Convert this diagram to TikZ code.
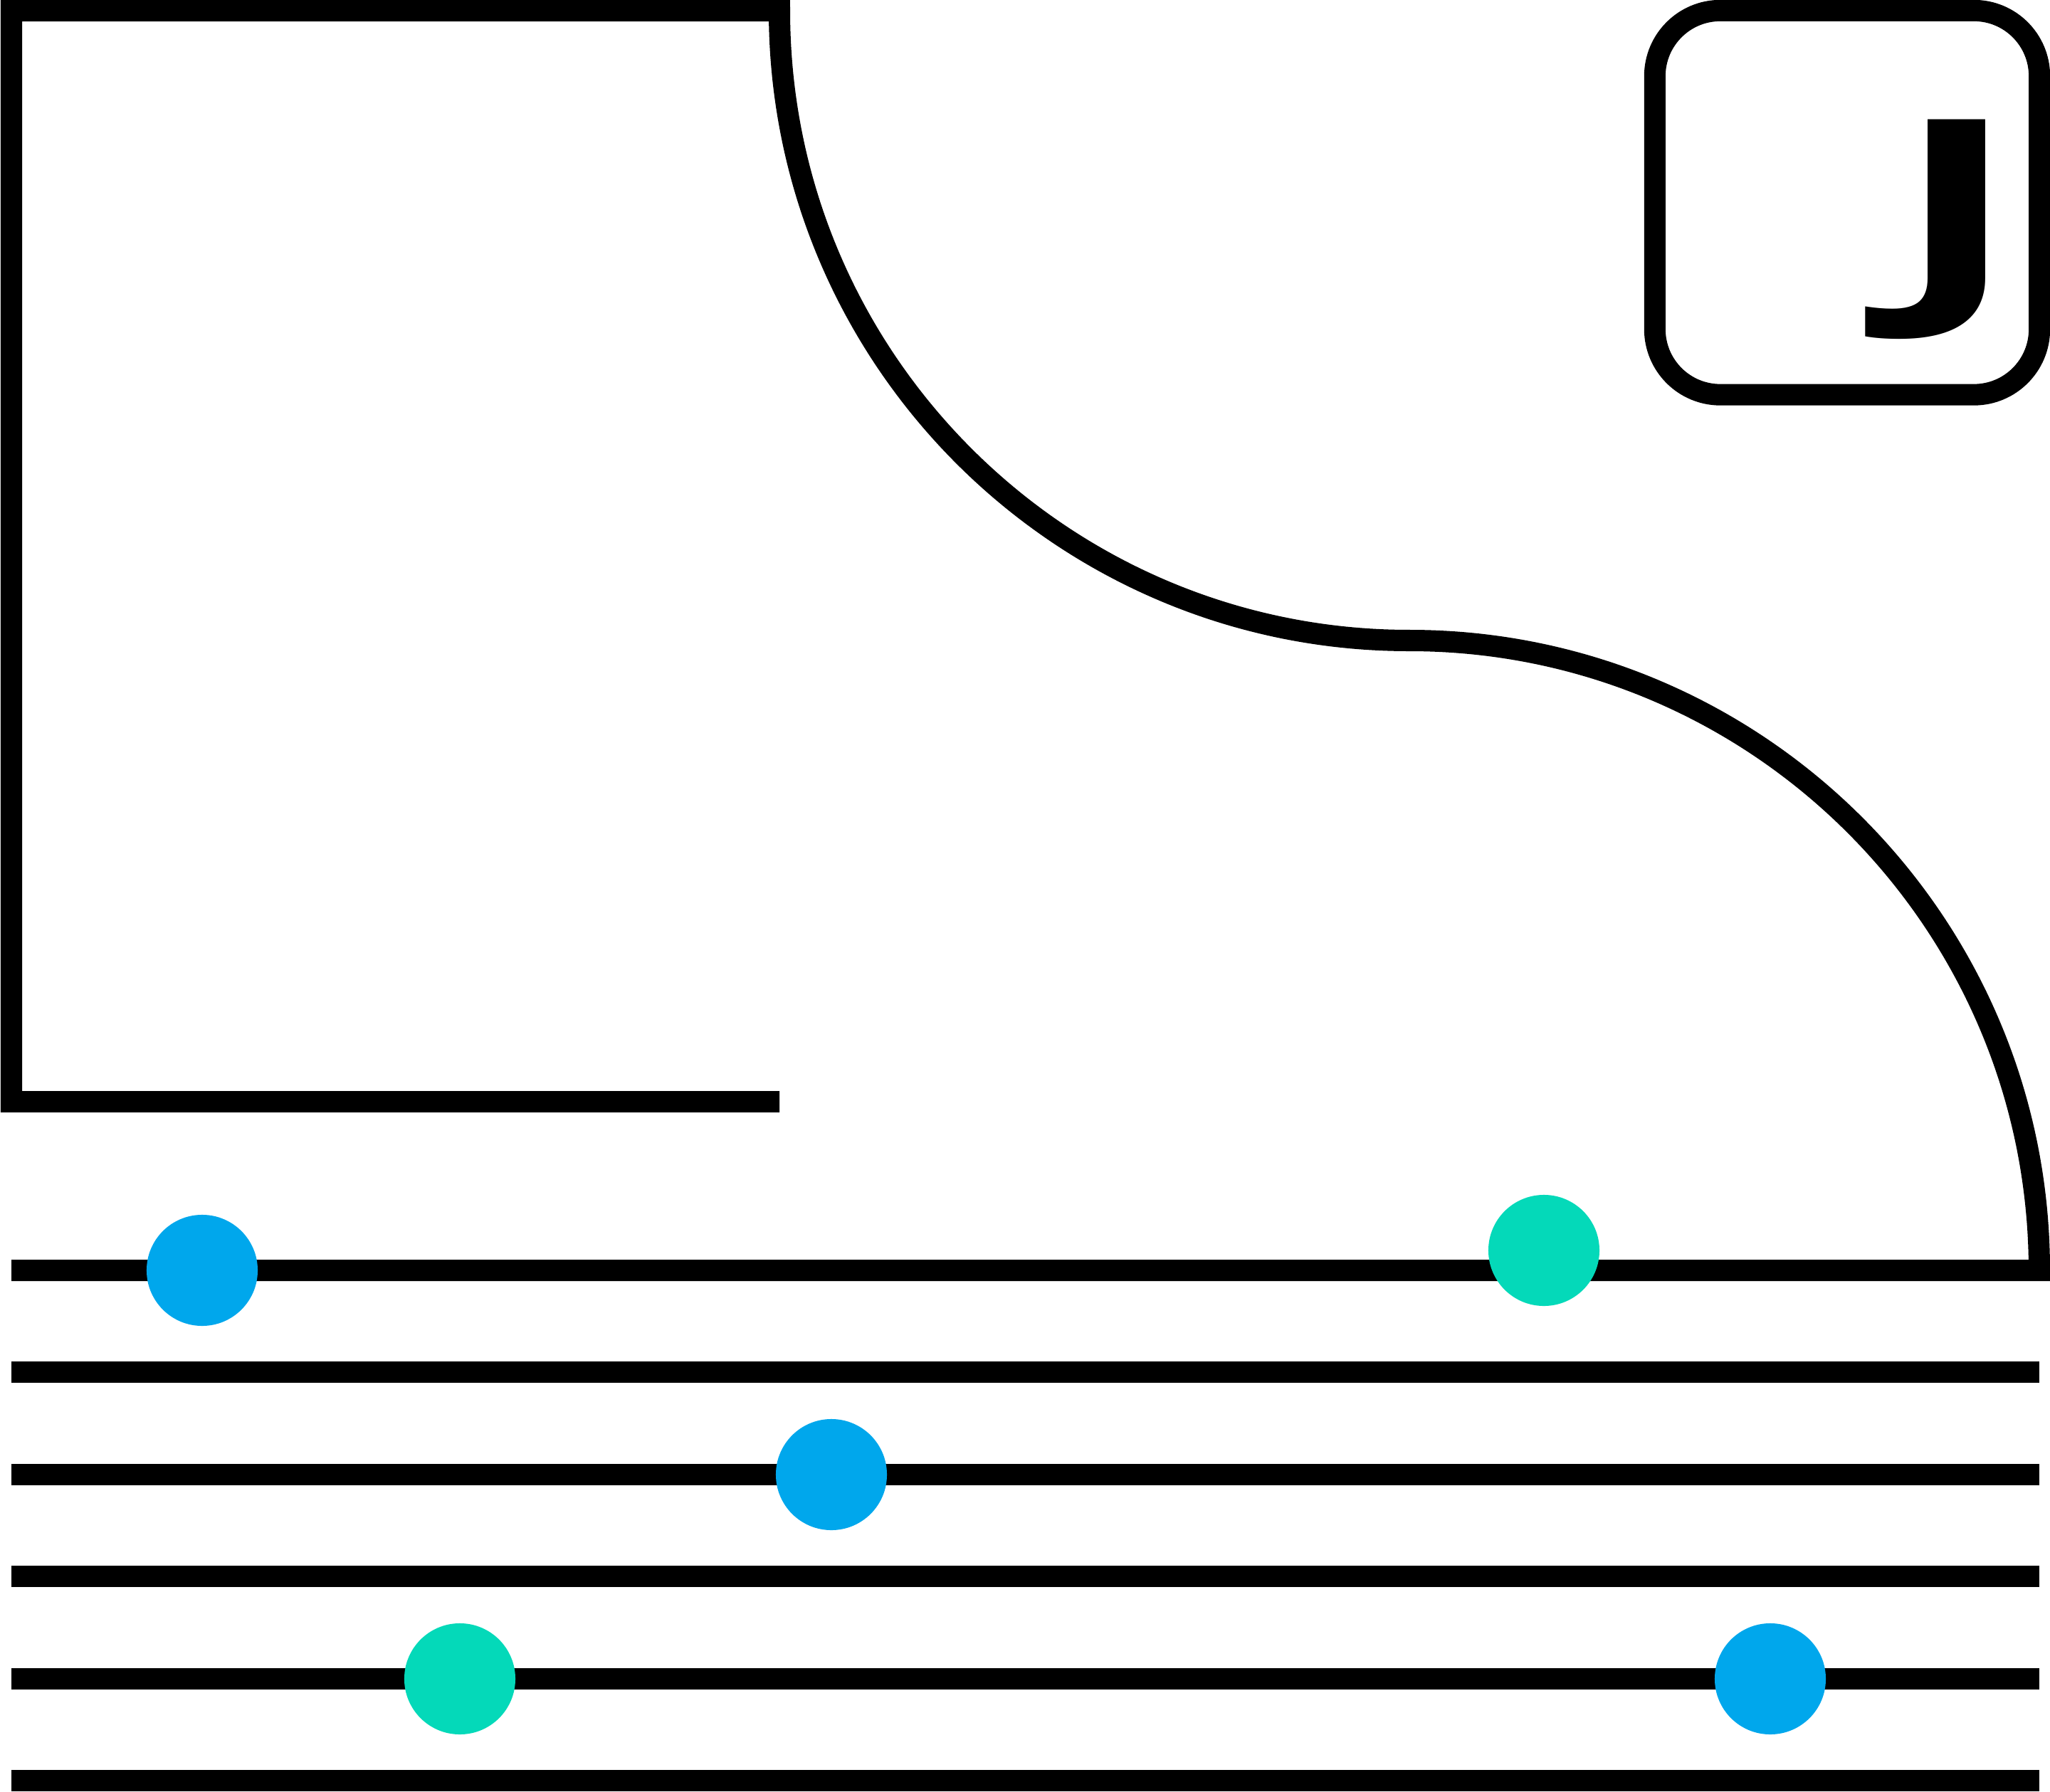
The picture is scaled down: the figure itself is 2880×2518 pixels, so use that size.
\documentclass[tikz,border=0pt]{standalone}
\usepackage{fontspec}
\setmainfont{Open Sans}
\newfontfamily\widesans{Open Sans}[FakeStretch=1.6]
\definecolor{dotblue}{RGB}{0,167,236}
\definecolor{dotteal}{RGB}{4,217,185}
\tikzset{bluedot/.style={circle,fill=dotblue,minimum size=1.56cm}}
\tikzset{tealdot/.style={circle,fill=dotteal,minimum size=1.56cm}}

\begin{document}
\begin{tikzpicture}
                [x=0.01cm,y=-0.01cm,line width=0.3cm,every node/.style={inner sep=0pt}]
                \useasboundingbox (0,0) rectangle (2880,2518);
                \draw (1095,1548) -- (16,1548) -- (16,15) -- (1095,15)
                      arc[start angle=180,end angle=90,radius=885]
                      arc[start angle=270,end angle=360,radius=885] -- (16,1785);
                \foreach \y in {1928.4,2071.8,2215.2,2358.6,2502}
                \draw (16,\y) -- (2865,\y);
                
                \node [draw,rounded corners=0.92cm,minimum width=5.4cm,minimum height=5.395cm] (box) at (2595,284.75) {};
                \node [anchor=base,font=\widesans\bfseries\fontsize{95}{95}\selectfont] (lbl) at (2749,406) {J};
                
                \node [bluedot] (d1) at (284,1785) {};
                \node [tealdot] (d2) at (2169,1757) {};
                \node [bluedot] (d3) at (1168,2072) {};
                \node [tealdot] (d4) at (646,2359) {};
                \node [bluedot] (d5) at (2487,2359) {};
            \end{tikzpicture}
\end{document}
